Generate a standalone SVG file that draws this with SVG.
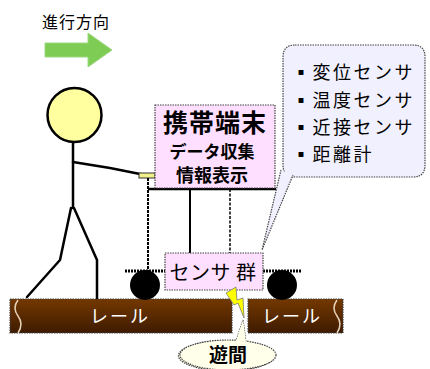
<svg xmlns="http://www.w3.org/2000/svg" width="430" height="369" viewBox="0 0 430 369">
  <style>
    .jp { font-family: "Noto Sans CJK JP", "Noto Sans", sans-serif; }
    .dot { stroke: #444; stroke-width: 1.2; stroke-dasharray: 1.5 1; }
    .ink { stroke: #000; stroke-width: 2.5; fill: none; stroke-linecap: round; stroke-linejoin: round; }
    .pink { fill: #FFDFFF; }
  </style>
  <defs>
    <linearGradient id="railGrad" x1="0" y1="0" x2="0" y2="1">
      <stop offset="0" stop-color="#743800"/>
      <stop offset="1" stop-color="#3E1B00"/>
    </linearGradient>
  </defs>

  <!-- direction of travel -->
  <g id="direction">
    <text class="jp" x="42" y="28" font-size="16" letter-spacing="1" fill="#000">進行方向</text>
    <polygon points="45,43 88,43 88,33 112,50 88,67 88,57 45,57" fill="#7FCC55" stroke="#9ED880" stroke-width="1"/>
  </g>

  <!-- rails -->
  <g id="rail-left">
    <rect x="10" y="299" width="222" height="34" fill="url(#railGrad)" class="dot"/>
    <path d="M18,300 q-6,8 0,16 q6,8 0,17" fill="none" stroke="#E6D2B8" stroke-width="1.5"/>
    <text class="jp" x="120" y="323" font-size="18" letter-spacing="2" fill="#fff" text-anchor="middle">レール</text>
  </g>
  <g id="rail-right">
    <rect x="248" y="299" width="95" height="34" fill="url(#railGrad)" class="dot"/>
    <path d="M337,300 q-6,8 0,16 q6,8 0,17" fill="none" stroke="#E6D2B8" stroke-width="1.5"/>
    <text class="jp" x="292" y="323" font-size="18" letter-spacing="2" fill="#fff" text-anchor="middle">レール</text>
  </g>

  <!-- person pushing the cart -->
  <g id="person">
    <line class="ink" x1="73" y1="142" x2="73" y2="208"/>
    <polyline class="ink" points="73,162 110,168 145,175"/>
    <polyline class="ink" points="71,208 60,260 27,297"/>
    <polyline class="ink" points="74,208 97,260 97,298"/>
    <circle cx="74.5" cy="115" r="27" fill="#FFFFA0" stroke="#000" stroke-width="2.5"/>
    <rect x="139" y="173" width="16" height="5" fill="#F2F08A" stroke="#333" stroke-width="1"/>
  </g>

  <!-- cart frame -->
  <g id="cart">
    <line x1="148" y1="178" x2="148" y2="272" stroke="#000" stroke-width="2" stroke-dasharray="3 1"/>
    <line x1="148" y1="189" x2="276" y2="189" stroke="#000" stroke-width="2.5"/>
    <line x1="190" y1="189" x2="190" y2="253" stroke="#000" stroke-width="2"/>
    <line x1="230" y1="189" x2="230" y2="253" stroke="#000" stroke-width="1.5" stroke-dasharray="3 1.5"/>
    <line x1="125" y1="271" x2="302" y2="271" stroke="#000" stroke-width="3" stroke-dasharray="2 1"/>
    <circle cx="145" cy="285" r="15" fill="#000"/>
    <circle cx="282" cy="285" r="15" fill="#000"/>
  </g>

  <!-- handheld terminal -->
  <g id="terminal">
    <rect x="155" y="105" width="120" height="83" class="pink dot"/>
    <text class="jp" x="215" y="132" font-size="25" font-weight="bold" letter-spacing="1" fill="#000" text-anchor="middle">携帯端末</text>
    <text class="jp" x="212" y="158" font-size="17" font-weight="bold" fill="#000" text-anchor="middle">データ収集</text>
    <text class="jp" x="212" y="182" font-size="18" font-weight="bold" fill="#000" text-anchor="middle">情報表示</text>
  </g>

  <!-- sensor list callout -->
  <g id="sensor-list">
    <path d="M295,45 H413 Q425,45 425,57 V165 Q425,177 413,177 H295 Q283,177 283,165 V57 Q283,45 295,45 Z" fill="#F0F0FF" class="dot"/>
    <polygon points="281,170 293,175 262,250" fill="#F0F0FF"/>
    <polyline points="281,170 262,250 293,175" fill="none" class="dot"/>
    <g class="jp" font-size="18" letter-spacing="2.5" fill="#000">
      <text x="292" y="79">▪変位センサ</text>
      <text x="292" y="107">▪温度センサ</text>
      <text x="292" y="134">▪近接センサ</text>
      <text x="292" y="161">▪距離計</text>
    </g>
  </g>

  <!-- sensor group -->
  <g id="sensors">
    <rect x="165" y="253" width="98" height="37" class="pink dot"/>
    <text class="jp" x="213" y="280" font-size="20" letter-spacing="0.5" fill="#000" text-anchor="middle">センサ 群</text>
  </g>

  <!-- rail gap -->
  <g id="gap">
    <polygon points="226,293 236,287 237,300 243,298 244,318 238,303 234,305" fill="#FFFF00" stroke="#777" stroke-width="0.8"/>
    <path d="M243,320 L246,342 A48,15 0 1 1 236,341 Z" fill="#FFFFEA" class="dot"/>
    <ellipse cx="228" cy="355" rx="48" ry="15" fill="#FFFFEA" class="dot"/>
    <path d="M236,341 L243,320 L246,342" fill="#FFFFEA" stroke="none"/>
    <text class="jp" x="228" y="362" font-size="19" font-weight="bold" fill="#000" text-anchor="middle">遊間</text>
  </g>
</svg>
